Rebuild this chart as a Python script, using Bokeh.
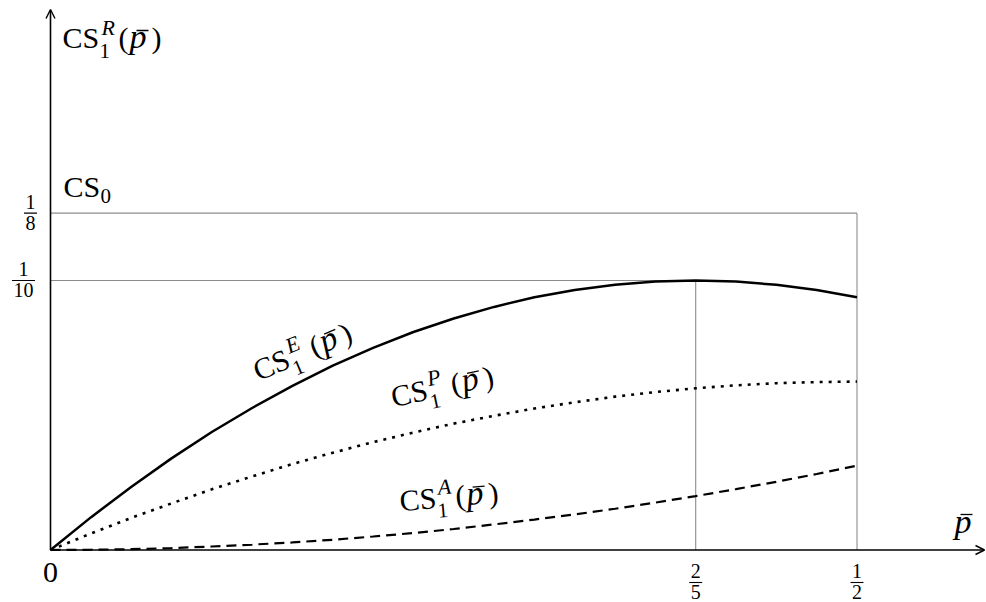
import math
from bokeh.plotting import figure
from bokeh.models import Range1d, Arrow, OpenHead
from bokeh.core.properties import value
from bokeh.embed import file_html
from bokeh.resources import INLINE

# ---- data ----
p_bar = [0.0, 0.025, 0.05, 0.075, 0.1, 0.125, 0.15, 0.175, 0.2, 0.225, 0.25,
         0.275, 0.3, 0.325, 0.35, 0.375, 0.4, 0.425, 0.45, 0.475, 0.5]
cs_E = [0.0, 0.0121, 0.0234, 0.0340, 0.0438, 0.0527, 0.0609, 0.0684, 0.0750, 0.0809, 0.0859,
        0.0902, 0.0938, 0.0965, 0.0984, 0.0996, 0.1000, 0.0996, 0.0984, 0.0965, 0.0938]
cs_P = [0.0, 0.0061, 0.0119, 0.0173, 0.0225, 0.0273, 0.0319, 0.0361, 0.0400, 0.0436, 0.0469,
        0.0498, 0.0525, 0.0548, 0.0569, 0.0586, 0.0600, 0.0611, 0.0619, 0.0623, 0.0625]
cs_A = [0.0, 0.0001, 0.0003, 0.0007, 0.0013, 0.0020, 0.0028, 0.0038, 0.0050, 0.0063, 0.0078,
        0.0095, 0.0113, 0.0132, 0.0153, 0.0176, 0.0200, 0.0226, 0.0253, 0.0282, 0.0313]
cs0_level = 0.125
peak_p, peak_cs = 0.4, 0.1
p_end = 0.5
x_ticks = [("2", "5", 0.4), ("1", "2", 0.5)]
y_ticks = [("1", "8", 0.125), ("1", "10", 0.1)]

FONT = "Liberation Serif"
W, H = 986, 602
SX, SY = 1613.0, 2695.0   # px per unit
X0, Y0 = 50.0, 549.5       # px of origin
BASE_K = 0.36              # baseline correction (fraction of font size)


def X(px):
    return (px - X0) / SX


def Y(py):
    return (Y0 - py) / SY


p = figure(width=W, height=H, output_backend="svg", toolbar_location=None,
           x_range=Range1d(X(0), X(W)), y_range=Range1d(Y(H), Y(0)),
           min_border=0, outline_line_color=None)
p.axis.visible = False
p.grid.visible = False
p.background_fill_color = "white"

# reference lines
gray = "#8c8c8c"
p.segment(x0=[0, p_end, 0, peak_p], y0=[cs0_level, 0, peak_cs, 0],
          x1=[p_end, p_end, peak_p, peak_p], y1=[cs0_level, cs0_level, peak_cs, peak_cs],
          line_color=gray, line_width=1.1)

# curves
p.line(p_bar, cs_E, line_color="black", line_width=2.5)
p.line(p_bar, cs_P, line_color="black", line_width=2.6, line_dash="3 6")
p.line(p_bar, cs_A, line_color="black", line_width=2.2, line_dash="10 6")

# axes with arrows
p.add_layout(Arrow(end=OpenHead(size=9, line_width=1.4, line_color="black"),
                   x_start=0, y_start=0, x_end=X(984), y_end=0,
                   line_color="black", line_width=1.6))
p.add_layout(Arrow(end=OpenHead(size=9, line_width=1.4, line_color="black"),
                   x_start=0, y_start=0, x_end=0, y_end=Y(9),
                   line_color="black", line_width=1.6))


def put(txt, px, py, size, italic=False, angle=0.0, align="left"):
    c = BASE_K * size
    px = px - c * math.sin(angle)
    py = py - c * math.cos(angle)
    p.text(x=[X(px)], y=[Y(py)], text=[txt], angle=angle,
           text_font=value(FONT), text_font_size=f"{size}px",
           text_font_style="italic" if italic else "normal",
           text_align=align, text_baseline="alphabetic", text_color="black")


def macron(x0, y0, x1, y1):
    p.segment(x0=[X(x0)], y0=[Y(y0)], x1=[X(x1)], y1=[Y(y1)],
              line_color="black", line_width=1.3)


def cs_label(sup, ax, ay, deg, gap):
    a = math.radians(deg)

    def pt(lx, ly):
        return (ax + lx * math.cos(a) - ly * math.sin(a),
                ay - (lx * math.sin(a) + ly * math.cos(a)))

    pieces = [("CS", 0, 0, 30, False), ("1", 37, -10, 21, False),
              (sup, 39, 13, 22, True), ("(", 56 + gap, 0, 30, False),
              ("p", 67 + gap, 0, 34, True), (")", 89 + gap, 0, 30, False)]
    for t, lx, ly, s, it in pieces:
        px, py = pt(lx, ly)
        put(t, px, py, s, it, a)
    m0 = pt(74 + gap, 18)
    m1 = pt(86 + gap, 18)
    macron(m0[0], m0[1], m1[0], m1[1])


cs_label("R", 62, 48, 0, 0)
cs_label("E", 258, 381, 23, 5)
cs_label("P", 393, 407, 12, 5)
cs_label("A", 400, 511, 5, 0)

# CS_0
put("CS", 63, 197, 30)
put("0", 100, 203, 21)

# x-axis label p-bar
put("p", 954, 533, 34, True)
macron(960, 514, 972, 514)

# origin
put("0", 50, 583, 30, align="center")


def frac(num, den, cx, bar_y, half):
    put(num, cx, bar_y - 4, 20, align="center")
    put(den, cx, bar_y + 17, 20, align="center")
    p.segment(x0=[X(cx - half)], y0=[Y(bar_y)], x1=[X(cx + half)], y1=[Y(bar_y)],
              line_color="black", line_width=1.1)


for num, den, xv in x_ticks:
    frac(num, den, X0 + xv * SX, 582, 6.5)
for num, den, yv in y_ticks:
    cx = 30 if len(den) == 1 else 23
    half = 6.5 if len(den) == 1 else 11.5
    frac(num, den, cx, Y0 - yv * SY, half)

open("out.html", "w").write(file_html(p, INLINE))
